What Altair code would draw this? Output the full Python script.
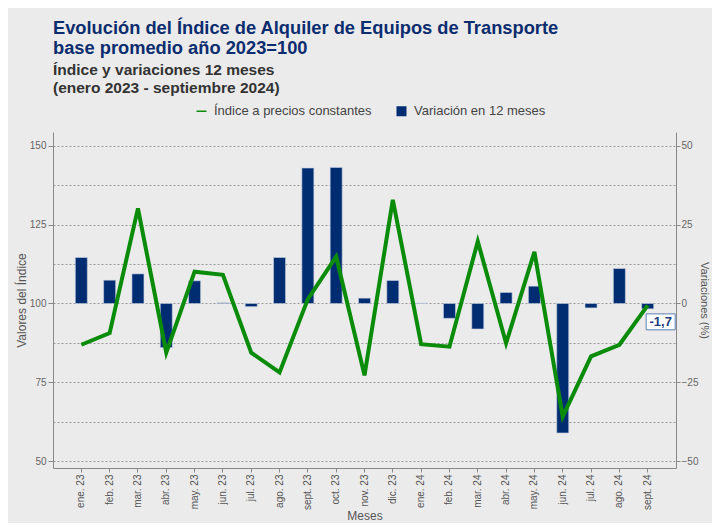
import altair as alt
import pandas as pd

months = ["ene. 23", "feb. 23", "mar. 23", "abr. 23", "may. 23", "jun. 23", "jul. 23",
          "ago. 23", "sept. 23", "oct. 23", "nov. 23", "dic. 23", "ene. 24", "feb. 24",
          "mar. 24", "abr. 24", "may. 24", "jun. 24", "jul. 24", "ago. 24", "sept. 24"]
index_values = [86.9, 90.6, 130.2, 84.4, 110.1, 109.1, 84.4, 78.1, 101.4, 114.9, 77.2,
                132.9, 87.1, 86.3, 119.7, 87.4, 116.4, 64.1, 83.2, 86.9, 99.4]
variation_values = [14.6, 7.4, 9.4, -14.0, 7.2, 0.2, -1.0, 14.6, 43.0, 43.2, 1.7,
                    7.3, 0.1, -4.7, -8.1, 3.5, 5.5, -41.1, -1.4, 11.1, -1.7]

S_LINE = "Índice a precios constantes"
S_BAR = "Variación en 12 meses"
series = [S_LINE, S_BAR]

df = pd.DataFrame({"mes": months, "indice": index_values, "variacion": variation_values})
last = df.tail(1).copy()
last["etiqueta"] = last["variacion"].map(lambda v: f"{v:.1f}".replace(".", ","))
legend_df = pd.DataFrame({"serie": series})

FONT = "Liberation Sans"
NAVY = "#002d72"
GREEN = "#0a8c0a"
BG = "#ebebeb"

LEFT_DOMAIN = [47.78, 154.44]
RIGHT_DOMAIN = [-52.22, 54.44]

x = alt.X("mes:N", sort=months, title="Meses",
          scale=alt.Scale(paddingInner=0, paddingOuter=0.5),
          axis=alt.Axis(labelAngle=270, labelFontSize=10, labelColor="#555555",
                        labelPadding=2, tickSize=4, tickColor="#888888",
                        domainColor="#888888", titleFontSize=12, titleFontWeight="normal",
                        titleColor="#555555", titlePadding=1, labelFont=FONT, titleFont=FONT))

right_axis = alt.Axis(orient="right", values=[-50, -25, 0, 25, 50], grid=False,
                      labelFontSize=10, labelColor="#666666", labelPadding=1,
                      tickSize=4, tickColor="#888888", domainColor="#888888",
                      titleFontSize=11, titleFontWeight="normal", titleColor="#555555",
                      titlePadding=1, labelFont=FONT, titleFont=FONT)
y_var = alt.Y("variacion:Q", title="Variaciones (%)",
              scale=alt.Scale(domain=RIGHT_DOMAIN, nice=False, zero=False),
              axis=right_axis)

left_vals = [50, 62.5, 75, 87.5, 100, 112.5, 125, 137.5, 150]

bars = alt.Chart(df).mark_bar(size=12, color=NAVY, stroke="#c8d0e0", strokeWidth=0.6).encode(
    x=x, y=y_var, y2=alt.Y2(datum=0)
)

box = alt.Chart(last).mark_point(
    shape="M-1,-0.55H1V0.55H-1Z", size=841, filled=True, fill="white",
    stroke="#5a7fb5", strokeWidth=1, opacity=1, xOffset=13, yOffset=13
).encode(x=x, y=y_var)

label = alt.Chart(last).mark_text(
    font=FONT, fontSize=13, fontWeight="bold", color="#1f3d7a", dx=13, dy=13,
    align="center", baseline="middle"
).encode(x=x, y=y_var, text="etiqueta:N")

right_layer = alt.layer(bars, box, label)

line = alt.Chart(df).mark_line(strokeWidth=4, color=GREEN).encode(
    x=x,
    y=alt.Y("indice:Q", title="Valores del Índice",
            scale=alt.Scale(domain=LEFT_DOMAIN, nice=False, zero=False),
            axis=alt.Axis(orient="left", values=left_vals,
                          labelExpr="datum.value % 25 === 0 ? datum.label : ''",
                          tickOpacity={"condition": {"test": "datum.value % 25 === 0", "value": 1}, "value": 0},
                          grid=True, gridDash=[2, 2], gridColor="#999999", gridWidth=1,
                          labelFontSize=10, labelColor="#666666", labelPadding=2,
                          tickSize=5, tickColor="#888888", domainColor="#888888",
                          titleFontSize=12, titleFontWeight="normal", titleColor="#555555",
                          titlePadding=1, labelFont=FONT, titleFont=FONT)),
)

leg = dict(title=None, orient="none", direction="horizontal",
           legendX=142, legendY=-27.5,
           labelFontSize=13, labelFont=FONT, labelColor="#444444",
           labelOffset=6, columnPadding=23, symbolSize=100,
           symbolStrokeWidth=0, symbolOpacity=1)

legend_pts = alt.Chart(legend_df).mark_point(filled=True, size=100).encode(
    color=alt.Color("serie:N", scale=alt.Scale(domain=series, range=[GREEN, NAVY]),
                    legend=alt.Legend(**leg)),
    shape=alt.Shape("serie:N", scale=alt.Scale(domain=series,
                                                range=["M-1,-0.15H1V0.15H-1Z", "square"]),
                    legend=alt.Legend(**leg)),
).transform_filter("false")

chart = alt.layer(right_layer, line, legend_pts).resolve_scale(y="independent").properties(
    width=623, height=336,
    background=BG,
    padding={"left": 45, "top": 124, "right": 36, "bottom": 55},
    autosize=alt.AutoSizeParams(type="none"),
    title=alt.TitleParams(
        text=["Evolución del Índice de Alquiler de Equipos de Transporte",
              "base promedio año 2023=100"],
        subtitle=["Índice y variaciones 12 meses", "(enero 2023 - septiembre 2024)"],
        anchor="start", frame="group", font=FONT, fontSize=18.3, fontWeight="bold",
        color="#0b2d6f", lineHeight=20, subtitleFont=FONT, subtitleFontSize=15.5,
        subtitleFontWeight="bold", subtitleColor="#333333", subtitleLineHeight=18,
        subtitlePadding=5, offset=7)
).configure_view(stroke=None)

chart.save("out.html", embed_options={"renderer": "svg", "actions": False})
